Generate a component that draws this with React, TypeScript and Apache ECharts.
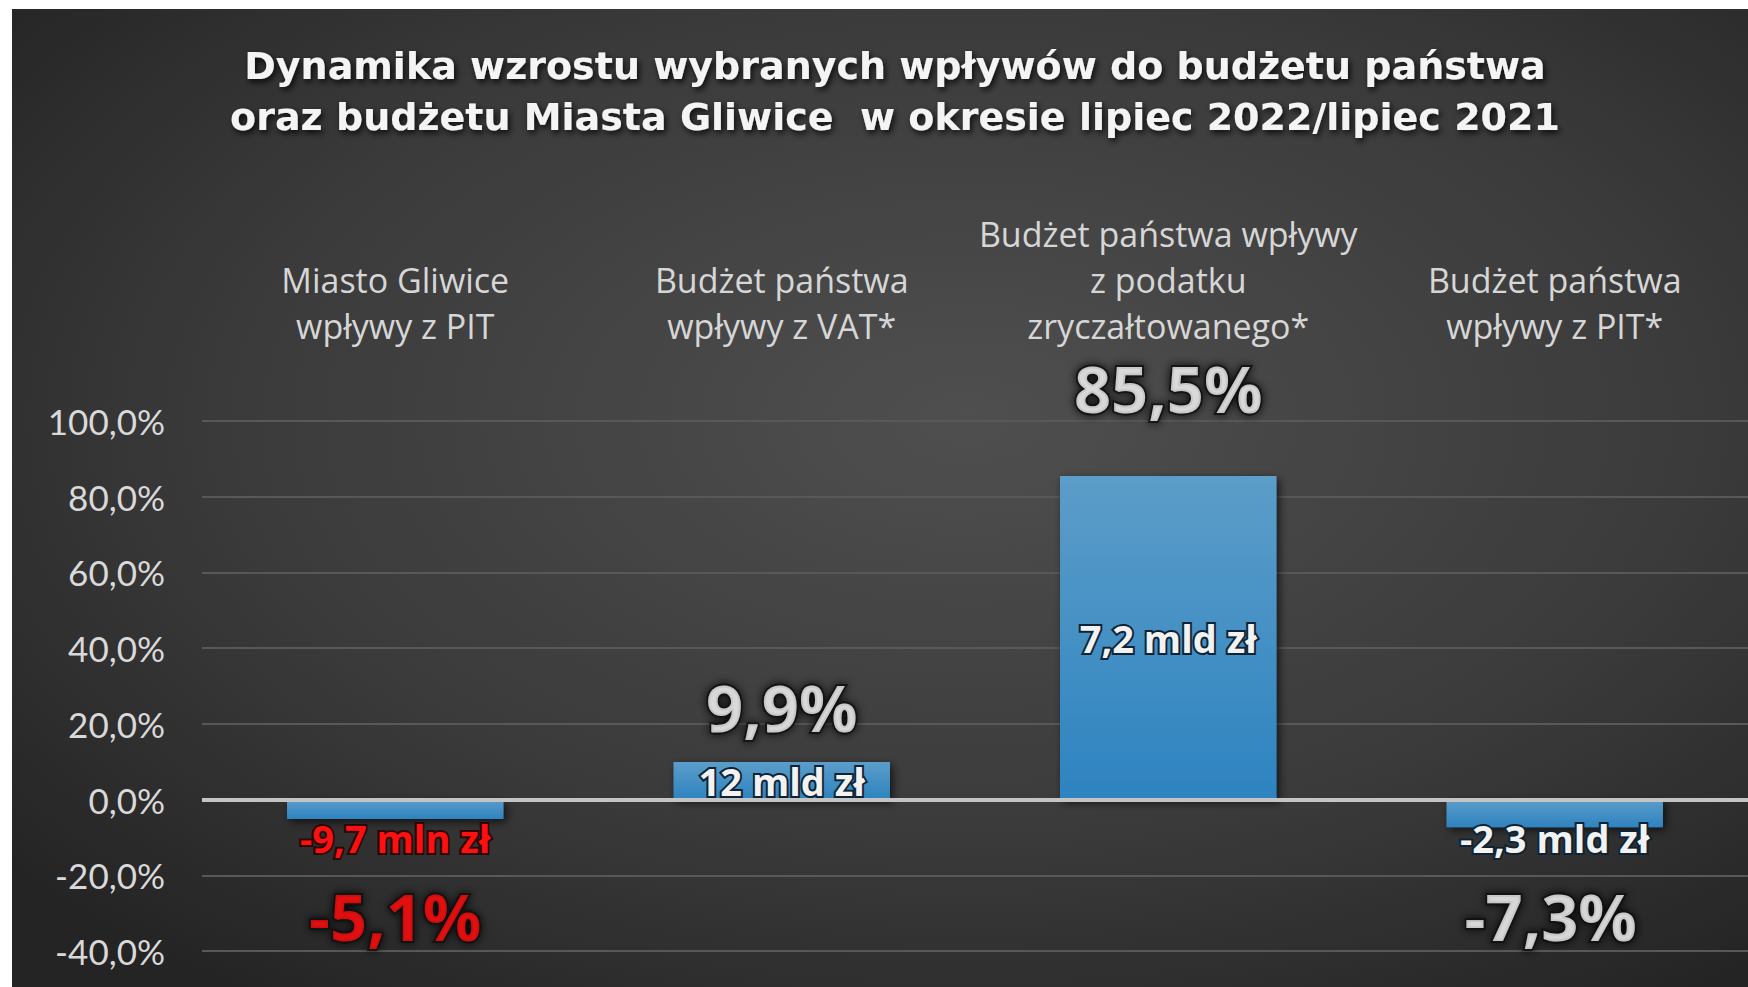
import React, { useEffect, useRef } from "react";
import * as echarts from "echarts";

const titleLines = [
  "Dynamika wzrostu wybranych wpływów do budżetu państwa",
  "oraz budżetu Miasta Gliwice  w okresie lipiec 2022/lipiec 2021",
];
const categories = [
  "Miasto Gliwice\nwpływy z PIT",
  "Budżet państwa\nwpływy z VAT*",
  "Budżet państwa wpływy\nz podatku\nzryczałtowanego*",
  "Budżet państwa\nwpływy z PIT*",
];
const growthPct = [-5.1, 9.9, 85.5, -7.3];
const amountLabels = ["-9,7 mln zł", "12 mld zł", "7,2 mld zł", "-2,3 mld zł"];
const yMin = -40;
const yMax = 100;
const yStep = 20;

// layout / style (not data)
const amountOffsets = [[0, 29], [0, 0], [0, 0], [0, 25]];
const pctOffsets = [[0, 97], [0, -55], [0, -88], [-4, 89]];
const highlightIndex = 0;

const fmtPct = (v: number) => v.toFixed(1).replace(".", ",") + "%";

export default function App() {
  const ref = useRef<HTMLDivElement>(null);
  useEffect(() => {
    document.body.style.margin = "0";
    const chart = echarts.init(ref.current!, null, { renderer: "svg" });
    const red = "#ff1010";
    chart.setOption({
      animation: false,
      backgroundColor: "#ffffff",
      graphic: [
        {
          type: "rect",
          z: -100,
          zlevel: 0,
          shape: { x: 12, y: 9, width: 1736, height: 978 },
          style: {
            fill: new echarts.graphic.RadialGradient(0.55, 0.42, 0.72, [
              { offset: 0, color: "#4f4f4f" },
              { offset: 0.6, color: "#3a3a3a" },
              { offset: 1, color: "#242424" },
            ]),
          },
          silent: true,
        },
      ],
      title: {
        text: titleLines.join("\n"),
        left: 890,
        top: 35,
        textAlign: "center",
        textStyle: {
          fontFamily: "DejaVu Sans",
          fontWeight: "bold",
          fontSize: 38,
          lineHeight: 51,
          color: "#f4f4f4",
          textShadowColor: "rgba(0,0,0,0.85)",
          textShadowBlur: 6,
          textShadowOffsetX: 2,
          textShadowOffsetY: 3,
        },
      },
      grid: { left: 202, top: 421, width: 1553, height: 530 },
      xAxis: {
        type: "category",
        position: "top",
        data: categories,
        axisLine: { show: false },
        axisTick: { show: false },
        axisLabel: {
          interval: 0,
          margin: 72,
          fontFamily: "Open Sans",
          fontSize: 34,
          lineHeight: 46,
          color: "#d6d6d6",
        },
      },
      yAxis: {
        type: "value",
        min: yMin,
        max: yMax,
        interval: yStep,
        axisLine: { show: false },
        axisTick: { show: false },
        splitLine: { lineStyle: { color: "#585858", width: 2 } },
        axisLabel: {
          margin: 37,
          fontFamily: "Lato",
          fontSize: 35,
          color: "#d9d9d9",
          formatter: (v: number) => fmtPct(v),
        },
      },
      series: [
        {
          type: "bar",
          barWidth: "56%",
          z: 3,
          data: growthPct.map((v, i) => ({
            value: v,
            label: {
              offset: amountOffsets[i],
              color: i === highlightIndex ? red : "#f2f2f2",
              textBorderColor: i === highlightIndex ? "#2a0606" : "#0e2436",
            },
          })),
          itemStyle: {
            color: new echarts.graphic.LinearGradient(0, 0, 0, 1, [
              { offset: 0, color: "#5c9dc9" },
              { offset: 1, color: "#2d83c0" },
            ]),
            shadowColor: "rgba(0,0,0,0.65)",
            shadowBlur: 8,
            shadowOffsetX: 3,
            shadowOffsetY: 3,
          },
          label: {
            show: true,
            position: "inside",
            fontFamily: "Open Sans",
            fontWeight: "bold",
            fontSize: 38,
            textBorderWidth: 4,
            formatter: (p: any) => amountLabels[p.dataIndex],
          },
          markLine: {
            silent: true,
            symbol: ["none", "none"],
            label: { show: false },
            lineStyle: { color: "#c4c4c4", width: 4, type: "solid" },
            data: [{ yAxis: 0 }],
          },
        },
        {
          type: "scatter",
          z: 5,
          symbolSize: 1,
          itemStyle: { color: "rgba(0,0,0,0)" },
          data: growthPct.map((v, i) => ({
            value: v,
            label: {
              offset: pctOffsets[i],
              color: i === highlightIndex ? red : "#f2f2f2",
            },
          })),
          label: {
            show: true,
            position: "inside",
            fontFamily: "Open Sans",
            fontWeight: "bold",
            fontSize: 65,
            textBorderColor: "#111111",
            textBorderWidth: 4,
            textShadowColor: "rgba(0,0,0,0.95)",
            textShadowBlur: 10,
            formatter: (p: any) => fmtPct(p.value),
          },
        },
      ],
    });
    return () => chart.dispose();
  }, []);
  return <div ref={ref} style={{ width: 1748, height: 987 }} />;
}
